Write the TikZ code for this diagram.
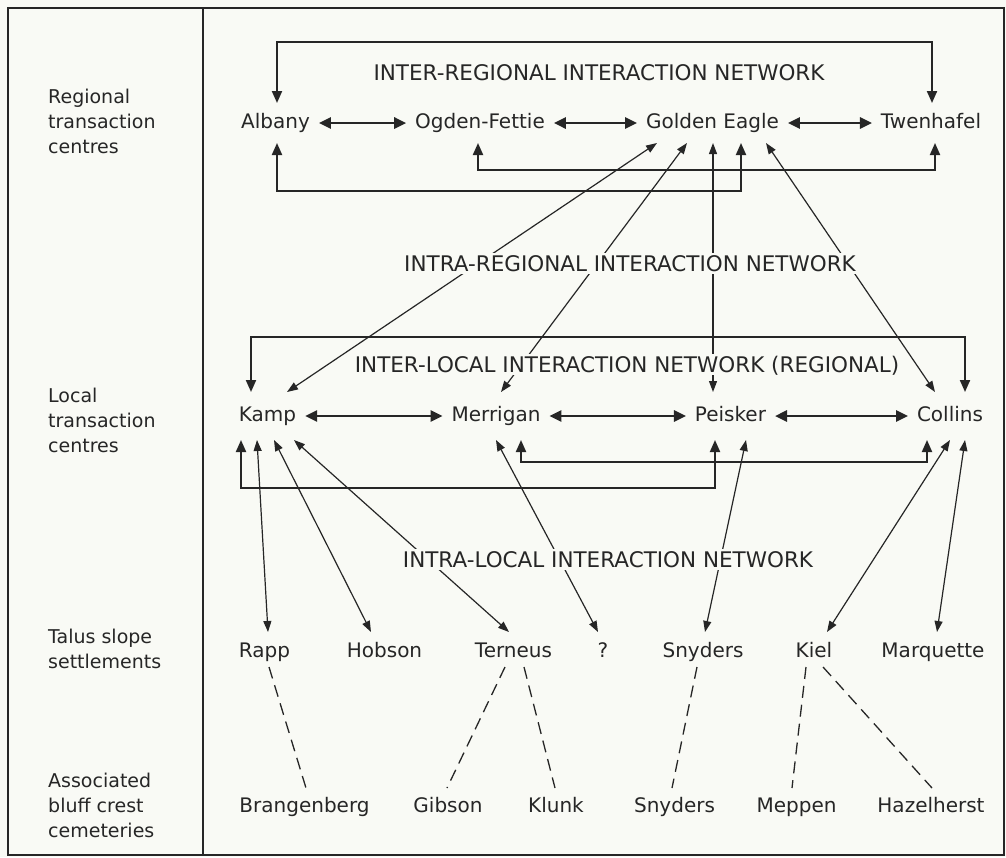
\documentclass[tikz,border=0pt]{standalone}
\usepackage{fontspec}
\setmainfont{DejaVu Sans}
\usetikzlibrary{arrows.meta,calc}
\definecolor{ink}{RGB}{38,38,38}
\definecolor{paper}{RGB}{249,250,245}
\newcommand{\placefont}{\fontsize{20}{24}\selectfont}
\newcommand{\netfont}{\fontsize{21.5}{26}\selectfont}
\newcommand{\levelfont}{\fontsize{19}{25}\selectfont}
\begin{document}
\begin{tikzpicture}[x=1pt,y=-1pt,
  place/.style={font=\placefont, text=ink, inner sep=0pt, outer sep=9pt,
    text height=15pt, text depth=5pt, anchor=base},
  netlabel/.style={font=\netfont, text=ink, fill=paper, inner sep=2pt,
    text height=16pt, text depth=1pt, anchor=base},
  level/.style={font=\levelfont, text=ink, inner sep=0pt, anchor=base west},
  frameline/.style={draw=ink, line width=2pt},
  link/.style={draw=ink, line width=2.6pt,
    {Triangle[length=12pt,width=11pt]}-{Triangle[length=12pt,width=11pt]}},
  bracket/.style={draw=ink, line width=2pt,
    {Triangle[length=12pt,width=10pt]}-{Triangle[length=12pt,width=10pt]}},
  tie/.style={draw=ink, line width=1.2pt,
    {Triangle[length=11pt,width=8pt]}-{Triangle[length=11pt,width=8pt]}},
  kin/.style={draw=ink, line width=1.3pt, dash pattern=on 12pt off 7pt}]

% page and frame
\fill[paper] (0,0) rectangle (1006,857);
\useasboundingbox (0,0) rectangle (1006,857);
\draw[frameline] (8,8) rectangle (1004,855);
\draw[frameline] (203,8) -- (203,855);

% level captions
\node[level] (lvA1) at (48,103) {Regional};
\node[level] (lvA2) at (48,128) {transaction};
\node[level] (lvA3) at (48,153) {centres};
\node[level] (lvB1) at (48,402) {Local};
\node[level] (lvB2) at (48,427) {transaction};
\node[level] (lvB3) at (48,452) {centres};
\node[level] (lvC1) at (48,643) {Talus slope};
\node[level] (lvC2) at (48,668) {settlements};
\node[level] (lvD1) at (48,787) {Associated};
\node[level] (lvD2) at (48,812) {bluff crest};
\node[level] (lvD3) at (48,837) {cemeteries};

% regional transaction centres
\node[place] (albany) at (275.5,128) {Albany};
\node[place] (ogden)  at (480,128)   {Ogden-Fettie};
\node[place] (golden) at (712.5,128) {Golden Eagle};
\node[place] (twen)   at (931,128)   {Twenhafel};

% local transaction centres
\node[place] (kamp)     at (267.5,421) {Kamp};
\node[place] (merrigan) at (496,421)   {Merrigan};
\node[place] (peisker)  at (730.5,421) {Peisker};
\node[place] (collins)  at (950,421)   {Collins};

% talus slope settlements
\node[place] (rapp)      at (264.5,657) {Rapp};
\node[place] (hobson)    at (384.5,657) {Hobson};
\node[place] (terneus)   at (513.5,657) {Terneus};
\node[place] (unknown)   at (603,657)   {?};
\node[place] (snyders)   at (703,657)   {Snyders};
\node[place] (kiel)      at (814,657)   {Kiel};
\node[place] (marquette) at (933,657)   {Marquette};

% bluff crest cemeteries
\node[place] (brang)    at (304.5,812) {Brangenberg};
\node[place] (gibson)   at (448,812)   {Gibson};
\node[place] (klunk)    at (556,812)   {Klunk};
\node[place] (snyders2) at (674.5,812) {Snyders};
\node[place] (meppen)   at (796.5,812) {Meppen};
\node[place] (hazel)    at (931,812)   {Hazelherst};

% inter-regional network
\draw[link] (albany) -- (ogden);
\draw[link] (ogden) -- (golden);
\draw[link] (golden) -- (twen);
\draw[bracket] ($(albany.base)+(1.5,-25)$) -- ++(0,-61) -| ($(twen.base)+(1,-25)$);
\draw[bracket] ($(albany.base)+(1.5,15)$) -- ++(0,48) -| ($(golden.base)+(28.5,15)$);
\draw[bracket] ($(ogden.base)+(-2,15)$) -- ++(0,27) -| ($(twen.base)+(4,15)$);

% intra-regional network
\draw[tie] ($(golden.base)+(-55.5,15)$) -- ($(kamp.base)+(19.5,-29)$);
\draw[tie] ($(golden.base)+(-25.5,15)$) -- ($(merrigan.base)+(5,-29)$);
\draw[tie] ($(golden.base)+(0.5,15)$) -- ($(peisker.base)+(-17.5,-29)$);
\draw[tie] ($(golden.base)+(53.5,15)$) -- ($(collins.base)+(-15,-29)$);

% inter-local network
\draw[link] (kamp) -- (merrigan);
\draw[link] (merrigan) -- (peisker);
\draw[link] (peisker) -- (collins);
\draw[bracket] ($(kamp.base)+(-16.5,-29)$) -- ++(0,-55) -| ($(collins.base)+(15,-29)$);
\draw[bracket] ($(kamp.base)+(-26.5,19)$) -- ++(0,48) -| ($(peisker.base)+(-15.5,19)$);
\draw[bracket] ($(merrigan.base)+(25,19)$) -- ++(0,22) -| ($(collins.base)+(-23,19)$);

% intra-local network
\draw[tie] ($(kamp.base)+(-10.5,19)$) -- ($(rapp.base)+(3.5,-25)$);
\draw[tie] ($(kamp.base)+(6.5,19)$) -- ($(hobson.base)+(-13.5,-25)$);
\draw[tie] ($(kamp.base)+(26.5,19)$) -- ($(terneus.base)+(-4.5,-25)$);
\draw[tie] ($(merrigan.base)+(0,19)$) -- ($(unknown.base)+(-5,-25)$);
\draw[tie] ($(peisker.base)+(15.5,19)$) -- ($(snyders.base)+(2,-25)$);
\draw[tie] ($(collins.base)+(0,19)$) -- ($(kiel.base)+(13,-25)$);
\draw[tie] ($(collins.base)+(15,19)$) -- ($(marquette.base)+(4,-25)$);

% settlements and their cemeteries
\draw[kin] ($(rapp.base)+(4.5,10)$) -- ($(brang.base)+(1.5,-24)$);
\draw[kin] ($(terneus.base)+(-8.5,10)$) -- ($(gibson.base)+(-1,-24)$);
\draw[kin] ($(terneus.base)+(10.5,10)$) -- ($(klunk.base)+(-1,-24)$);
\draw[kin] ($(snyders.base)+(-6,10)$) -- ($(snyders2.base)+(-2.5,-24)$);
\draw[kin] ($(kiel.base)+(-8,10)$) -- ($(meppen.base)+(-4.5,-24)$);
\draw[kin] ($(kiel.base)+(9,10)$) -- ($(hazel.base)+(1,-24)$);

% network captions, set over the connectors they interrupt
\node[netlabel] (nInterReg) at (599,80)  {INTER-REGIONAL INTERACTION NETWORK};
\node[netlabel] (nIntraReg) at (630,271) {INTRA-REGIONAL INTERACTION NETWORK};
\node[netlabel] (nInterLoc) at (627,372) {INTER-LOCAL INTERACTION NETWORK (REGIONAL)};
\node[netlabel] (nIntraLoc) at (608,567) {INTRA-LOCAL INTERACTION NETWORK};
\end{tikzpicture}
\end{document}
